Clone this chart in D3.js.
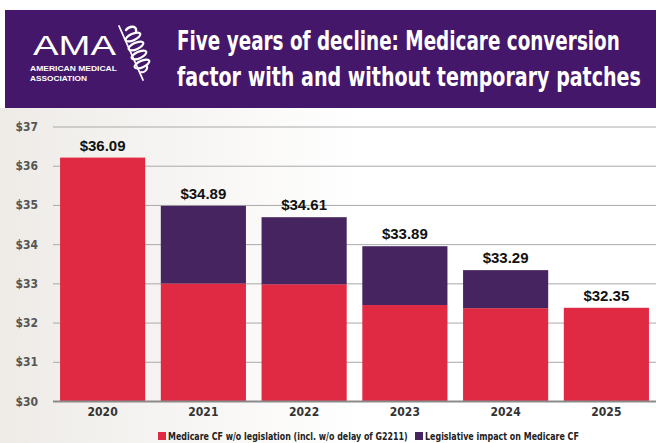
<!DOCTYPE html>
<html>
<head>
<meta charset="utf-8">
<script src="https://cdn.jsdelivr.net/npm/d3@7"></script>
<style>
  html, body { margin: 0; padding: 0; background: #fff; }
  svg { display: block; }
</style>
</head>
<body>
<div id="chart"></div>
<script>
// data
var years = ["2020", "2021", "2022", "2023", "2024", "2025"];
var baseValues = [36.22, 33.01, 32.99, 32.46, 32.38, 32.39];   // Medicare CF w/o legislation
var impactValues = [0, 1.98, 1.71, 1.50, 0.97, 0];             // legislative impact
var totalLabels = ["$36.09", "$34.89", "$34.61", "$33.89", "$33.29", "$32.35"];
var yTicks = [30, 31, 32, 33, 34, 35, 36, 37];
var seriesNames = ["Medicare CF w/o legislation (incl. w/o delay of G2211)", "Legislative impact on Medicare CF"];

var width = 656, height = 443;
var red = "#e02a43", purple = "#45245f", header = "#44176a";
var condensed = "'Liberation Sans Narrow', 'DejaVu Sans Condensed', 'Liberation Sans', sans-serif";

var svg = d3.select("#chart").append("svg")
    .attr("width", width)
    .attr("height", height);

// squeeze a text horizontally so it spans w pixels from (x, y)
function fitText(g, str, x, y, w, size, weight, family) {
    var t = g.append("text")
        .attr("font-family", family)
        .attr("font-size", size)
        .attr("font-weight", weight)
        .text(str);
    var len = t.node().getComputedTextLength();
    t.attr("transform", "translate(" + x + "," + y + ") scale(" + (w / len) + ",1)");
    return t;
}

// background gradient of the plot area
var defs = svg.append("defs");
var grad = defs.append("linearGradient").attr("id", "bg").attr("x1", "0").attr("x2", "1").attr("y1", "0").attr("y2", "0");
grad.append("stop").attr("offset", "0").attr("stop-color", "#eeebe7");
grad.append("stop").attr("offset", "0.55").attr("stop-color", "#ffffff");
grad.append("stop").attr("offset", "1").attr("stop-color", "#ffffff");

svg.append("rect").attr("x", 0).attr("y", 108).attr("width", width).attr("height", height - 108).attr("fill", "url(#bg)");

// header band
svg.append("rect").attr("x", 5).attr("y", 10).attr("width", width - 5).attr("height", 98).attr("fill", header);

var head = svg.append("g").attr("fill", "#fff");
var sans = "'Liberation Sans', Arial, sans-serif";
fitText(head, "AMA", 33, 55, 83, 28, "normal", sans);
fitText(head, "AMERICAN MEDICAL", 30, 71, 87, 6.5, "bold", sans);
fitText(head, "ASSOCIATION", 30, 81, 57, 6.5, "bold", sans);

// staff and snake mark
var logo = svg.append("g").attr("fill", "none").attr("stroke", "#fff").attr("stroke-linecap", "round");
logo.append("path").attr("d", "M119,26 L143,80").attr("stroke-width", 1.8);
logo.append("path").attr("d", "M126,30 C130,25 137,26 136,31").attr("stroke-width", 2.4);
[[133, 37], [136, 46], [139, 55], [142, 64]].forEach(function(c) {
    logo.append("ellipse")
        .attr("cx", c[0]).attr("cy", c[1])
        .attr("rx", 8).attr("ry", 3.2)
        .attr("transform", "rotate(-25," + c[0] + "," + c[1] + ")")
        .attr("stroke-width", 2.2);
});
logo.append("path").attr("d", "M147,66 C148,70 144,73 141,72").attr("stroke-width", 2);

// title
fitText(head, "Five years of decline: Medicare conversion", 177, 50, 443, 26, "bold", condensed);
fitText(head, "factor with and without temporary patches", 177, 86, 464, 26, "bold", condensed);

// scales
var x = d3.scaleBand()
    .domain(years)
    .range([53, 656])
    .paddingInner(0.155)
    .paddingOuter(0.07);

var y = d3.scaleLinear()
    .domain([30, 37])
    .range([401.5, 127]);

// gridlines
svg.append("g")
    .selectAll("line")
    .data(yTicks.filter(function(d) { return d > 30; }))
    .enter()
    .append("line")
    .attr("x1", 53).attr("x2", width)
    .attr("y1", function(d) { return y(d); })
    .attr("y2", function(d) { return y(d); })
    .attr("stroke", "#a9a9a9")
    .attr("stroke-width", 1);

// y tick labels
svg.append("g")
    .selectAll("text")
    .data(yTicks)
    .enter()
    .append("text")
    .attr("x", 38)
    .attr("y", function(d) { return y(d) + 4; })
    .attr("text-anchor", "end")
    .attr("font-family", condensed)
    .attr("font-size", 12).attr("font-weight", "bold")
    .attr("fill", "#555")
    .text(function(d) { return "$" + d; });

// bars
var bars = svg.append("g");
bars.selectAll(".base")
    .data(years)
    .enter()
    .append("rect")
    .attr("class", "base")
    .attr("x", function(d) { return x(d); })
    .attr("width", x.bandwidth())
    .attr("y", function(d, i) { return y(baseValues[i]); })
    .attr("height", function(d, i) { return y(30) - y(baseValues[i]); })
    .attr("fill", red);

bars.selectAll(".impact")
    .data(years)
    .enter()
    .append("rect")
    .attr("class", "impact")
    .attr("x", function(d) { return x(d); })
    .attr("width", x.bandwidth())
    .attr("y", function(d, i) { return y(baseValues[i] + impactValues[i]); })
    .attr("height", function(d, i) { return y(baseValues[i]) - y(baseValues[i] + impactValues[i]); })
    .attr("fill", purple);

// x axis line
svg.append("line")
    .attr("x1", 53).attr("x2", width)
    .attr("y1", y(30)).attr("y2", y(30))
    .attr("stroke", "#8a8a8a")
    .attr("stroke-width", 2);

// year labels
svg.append("g")
    .selectAll("text")
    .data(years)
    .enter()
    .append("text")
    .attr("x", function(d) { return x(d) + x.bandwidth() / 2; })
    .attr("y", 416)
    .attr("text-anchor", "middle")
    .attr("font-family", condensed)
    .attr("font-size", 12).attr("font-weight", "bold")
    .attr("fill", "#333")
    .text(function(d) { return d; });

// value labels
svg.append("g")
    .selectAll("text")
    .data(years)
    .enter()
    .append("text")
    .attr("x", function(d) { return x(d) + x.bandwidth() / 2; })
    .attr("y", function(d, i) { return y(baseValues[i] + impactValues[i]) - 7; })
    .attr("text-anchor", "middle")
    .attr("font-family", sans)
    .attr("font-size", 15).attr("font-weight", "bold")
    .attr("fill", "#111")
    .text(function(d, i) { return totalLabels[i]; });

// legend
var legendX = [158, 415];
var legendW = [240, 154];
var legendColors = [red, purple];
var legend = svg.append("g").attr("fill", "#222");
seriesNames.forEach(function(name, i) {
    legend.append("rect")
        .attr("x", legendX[i]).attr("y", 432)
        .attr("width", 8).attr("height", 8)
        .attr("fill", legendColors[i]);
    fitText(legend, name, legendX[i] + 10, 440, legendW[i], 11, "bold", condensed);
});
</script>
</body>
</html>
